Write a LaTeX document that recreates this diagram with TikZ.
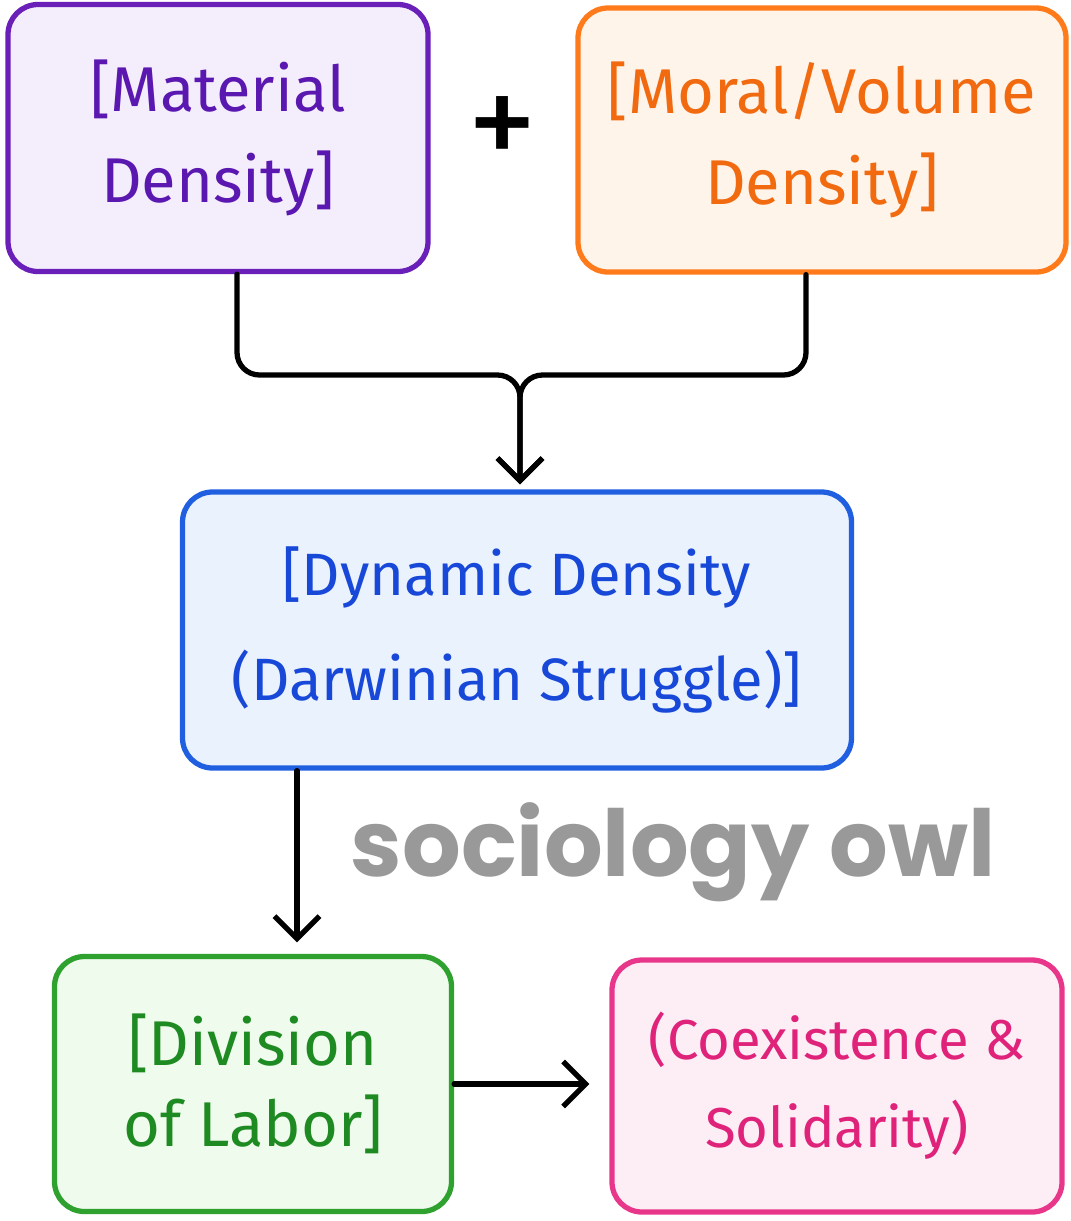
\documentclass[tikz,border=0pt]{standalone}
\usepackage{fontspec}
\setmainfont{Fira Sans}
\newfontfamily\markfont{Poppins}
\usetikzlibrary{positioning,arrows.meta}
\definecolor{matline}{HTML}{6A1FB8}
\definecolor{matfill}{HTML}{F4EEFC}
\definecolor{matink}{HTML}{5A18B0}
\definecolor{morline}{HTML}{FF7A1A}
\definecolor{morfill}{HTML}{FFF4EA}
\definecolor{morink}{HTML}{F26A0F}
\definecolor{dynline}{HTML}{1F5FE0}
\definecolor{dynfill}{HTML}{EAF2FE}
\definecolor{dynink}{HTML}{1848D8}
\definecolor{divline}{HTML}{2EA12E}
\definecolor{divfill}{HTML}{EFFBEC}
\definecolor{divink}{HTML}{1E8A22}
\definecolor{coline}{HTML}{E8378A}
\definecolor{cofill}{HTML}{FDEEF5}
\definecolor{coink}{HTML}{E0237A}
\tikzset{
card/.style={
    draw,
    rounded corners=0.6cm,
    line width=3pt,
    align=center,
    inner sep=0pt
},
link/.style={
    line width=3pt,
    rounded corners=0.45cm,
    line cap=round,
    line join=round,
    -{Straight Barb[length=4.5mm,width=9mm,line width=3pt]}
}}

\begin{document}
\begin{tikzpicture}
\useasboundingbox (0,0) rectangle (21.42,-24.42);
\node[card, draw=matline, fill=matfill, text=matink, minimum width=8.4cm, minimum height=5.34cm,
      font=\fontsize{36}{52}\selectfont]    (mat)    at (4.36,-2.76)    {[Material\\Density]};
\node[card, draw=morline, fill=morfill, text=morink, minimum width=9.76cm, minimum height=5.28cm,
      font=\fontsize{36}{52}\selectfont]    (mor)    at (16.44,-2.8)    {[Moral/Volume\\Density]};
\node[font=\fontsize{80}{80}\selectfont]    (plus)    at (10.06,-2.66)    {+};
\node[card, draw=dynline, fill=dynfill, text=dynink, minimum width=13.38cm, minimum height=5.52cm,
      font=\fontsize{34}{60}\selectfont]    (dyn)    at (10.34,-12.6)    {[Dynamic Density\\(Darwinian Struggle)]};
\node[card, draw=divline, fill=divfill, text=divink, minimum width=7.94cm, minimum height=5.1cm,
      font=\fontsize{36}{46}\selectfont]    (div)    at (5.06,-21.68)    {[Division\\of Labor]};
\node[card, draw=coline, fill=cofill, text=coink, minimum width=9.0cm, minimum height=5.04cm,
      font=\fontsize{32}{50}\selectfont]    (co)    at (16.74,-21.72)    {(Coexistence \&\\Solidarity)};
\node[text=black!40, font=\markfont\bfseries\fontsize{52.5}{52.5}\selectfont]    (owl)    at (13.46,-17.05)    {sociology owl};

\coordinate (join) at (10.4,-7.5);
\draw[link] ([xshift=0.38cm]mat.south) |- (join) -- ([yshift=0.1cm]join |- dyn.north);
\draw[link] ([xshift=-0.32cm]mor.south) |- (join) -- ([yshift=0.1cm]join |- dyn.north);
\draw[link] ([xshift=-4.4cm]dyn.south) -- ([xshift=-4.4cm,yshift=0.23cm]dyn.south |- div.north);
\draw[link, shorten >=0.4cm] (div.east) -- (div.east -| co.west);
\end{tikzpicture}
\end{document}
